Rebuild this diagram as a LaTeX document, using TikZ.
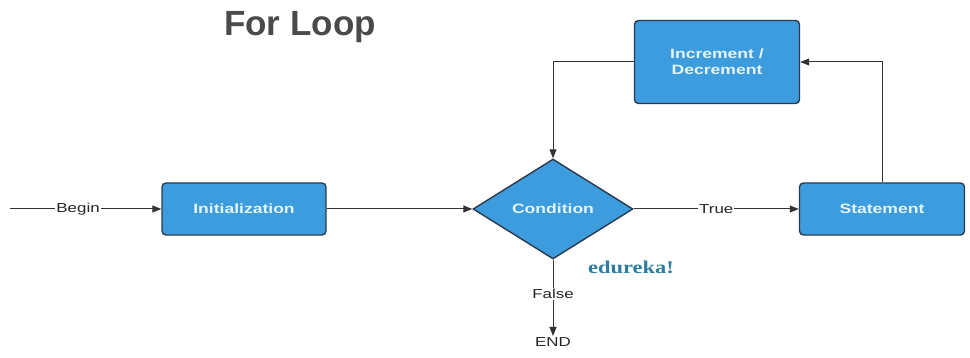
\documentclass[tikz,border=0pt]{standalone}
\usepackage{fontspec}
\usepackage{graphicx}
\setmainfont{Liberation Sans}
\newfontfamily\logofont{Liberation Serif}
\usetikzlibrary{arrows.meta,shapes.geometric}
\definecolor{boxblue}{HTML}{3C9CDD}
\definecolor{boxedge}{HTML}{2A3A4C}
\definecolor{boxtext}{HTML}{E4F4FC}
\definecolor{titlegray}{HTML}{4A4A4A}
\definecolor{logoteal}{HTML}{2C7D9E}
% horizontally widened text
\newcommand\wide[1]{\scalebox{1.3}[1]{#1}}
\begin{document}
\begin{tikzpicture}[x=1pt,y=-1pt,
  stepbox/.style={draw=boxedge,line width=1.4pt,fill=boxblue,rounded corners=4pt,
    text=boxtext,font=\fontsize{13.5}{16}\selectfont\bfseries,align=center,inner sep=0pt},
  decision/.style={diamond,draw=boxedge,line width=1.4pt,fill=boxblue,
    text=boxtext,font=\fontsize{13.5}{16}\selectfont\bfseries,inner sep=0pt,
    minimum width=160pt,minimum height=100pt,aspect=1.6},
  flow/.style={draw=black!80,line width=1pt,-{Triangle[length=9pt,width=7pt]}},
  lbl/.style={fill=white,inner sep=1pt,font=\fontsize{13}{15}\selectfont,text=black!85}]
\useasboundingbox (0,0) rectangle (970,358);

% title
\node[font=\fontsize{35}{38}\selectfont\bfseries,text=titlegray] (title) at (300,27) {For Loop};

% boxes
\node[stepbox,minimum width=164pt,minimum height=52pt] (init) at (244,209) {\wide{Initialization}};
\node[decision] (cond) at (553,209) {\wide{Condition}};
\node[stepbox,minimum width=165pt,minimum height=52pt] (stmt) at (882,209) {\wide{Statement}};
\node[stepbox,minimum width=165pt,minimum height=83pt] (incr) at (717,62) {\wide{Increment /}\\\wide{Decrement}};

% free ends
\coordinate (start) at (10,209);
\node[font=\fontsize{13}{15}\selectfont,text=black!85,anchor=north,inner sep=1pt] (endlbl) at (553,336) {\wide{END}};

% connectors
\draw[flow] (start) -- node[lbl,pos=0.45] (begin) {\wide{Begin}} (init.west);
\draw[flow] (init.east) -- (cond.west);
\draw[flow] (cond.east) -- node[lbl,pos=0.5] (true) {\wide{True}} (stmt.west);
\draw[flow] (stmt.north) |- (incr.east);
\draw[flow] (incr.west) -| (cond.north);
\draw[flow] (cond.south) -- node[lbl,pos=0.45] (false) {\wide{False}} (endlbl.north);

% logo text
\node[font=\logofont\fontsize{18}{20}\selectfont\bfseries,text=logoteal] (logo) at (631,267) {\scalebox{1.25}[1]{edureka!}};
\end{tikzpicture}
\end{document}
